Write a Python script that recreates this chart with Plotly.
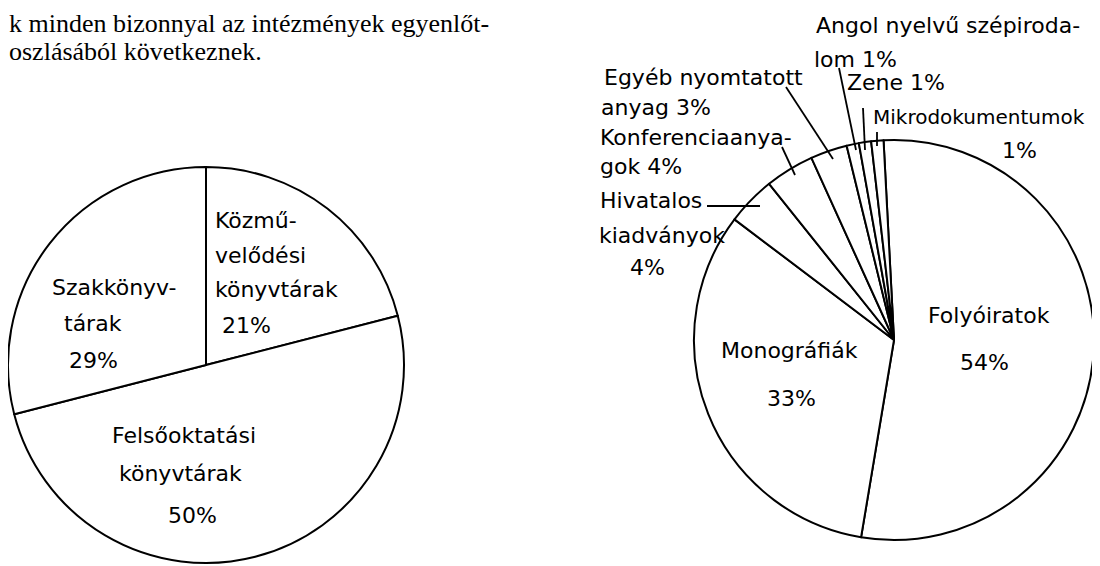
import plotly.graph_objects as go

# browser body margin (8px) is compensated: figure occupies window pixels 8..1100 x 8..566
OFF = 8
W, H = 1100 - OFF, 566 - OFF

# ---- data ----
left_labels = ["Közművelődési könyvtárak", "Felsőoktatási könyvtárak", "Szakkönyvtárak"]
left_values = [21, 50, 29]

right_labels = ["Folyóiratok", "Monográfiák", "Hivatalos kiadványok", "Konferenciaanyagok",
                "Egyéb nyomtatott anyag", "Angol nyelvű szépirodalom", "Zene", "Mikrodokumentumok"]
right_values = [54, 33, 4, 4, 3, 1, 1, 1]

body_text = ["k minden bizonnyal az intézmények egyenlőt-", "oszlásából következnek."]

FONT = "DejaVu Sans"
FS = 22


def px(x):
    return (x - OFF) / W


def py(y):
    return 1 - (y - OFF) / H


fig = go.Figure()

fig.add_trace(go.Pie(
    labels=left_labels, values=left_values, sort=False, direction="clockwise", rotation=0,
    marker=dict(colors=["white"] * 3, line=dict(color="black", width=2)),
    textinfo="none", hoverinfo="label+percent", showlegend=False,
    domain=dict(x=[px(8), px(404)], y=[py(564), py(166)]),
))

fig.add_trace(go.Pie(
    labels=right_labels, values=right_values, sort=False, direction="clockwise", rotation=-3,
    marker=dict(colors=["white"] * 8, line=dict(color="black", width=2)),
    textinfo="none", hoverinfo="label+percent", showlegend=False,
    domain=dict(x=[px(694), px(1094)], y=[py(541), py(139)]),
))

ann = []


def txt(s, x, y, anchor="left", size=FS, family=FONT, yanchor="middle"):
    ann.append(dict(text=s, x=px(x), y=py(y), xref="paper", yref="paper", xanchor=anchor,
                    yanchor=yanchor, showarrow=False, borderpad=0,
                    font=dict(family=family, size=size, color="black")))


# body text (serif)
txt(body_text[0], 8, 8, size=26, family="Liberation Serif", yanchor="top")
txt(body_text[1], 8, 36, size=26, family="Liberation Serif", yanchor="top")

lv = dict(zip(left_labels, left_values))
rv = dict(zip(right_labels, right_values))

# left pie labels
txt("Közmű-", 214, 220)
txt("velődési", 214, 255)
txt("könyvtárak", 214, 289)
txt(f"{lv['Közművelődési könyvtárak']}%", 221, 325)

txt("Szakkönyv-", 51, 287)
txt("tárak", 63, 323)
txt(f"{lv['Szakkönyvtárak']}%", 68, 360)

txt("Felsőoktatási", 184, 435, anchor="center")
txt("könyvtárak", 180, 473, anchor="center")
txt(f"{lv['Felsőoktatási könyvtárak']}%", 192, 515, anchor="center")

# right pie labels
txt("Angol nyelvű szépiroda-", 815, 25)
txt(f"lom {rv['Angol nyelvű szépirodalom']}%", 813, 60)
txt(f"Zene {rv['Zene']}%", 846, 82)
txt("Mikrodokumentumok", 872, 117, size=20)
txt(f"{rv['Mikrodokumentumok']}%", 1019, 150, anchor="center")
txt("Egyéb nyomtatott", 603, 77)
txt(f"anyag {rv['Egyéb nyomtatott anyag']}%", 600, 107)
txt("Konferenciaanya-", 599, 137)
txt(f"gok {rv['Konferenciaanyagok']}%", 599, 167)
txt("Hivatalos", 599, 200)
txt("kiadványok", 598, 235)
txt(f"{rv['Hivatalos kiadványok']}%", 647, 267, anchor="center")
txt("Monográfiák", 789, 350, anchor="center")
txt(f"{rv['Monográfiák']}%", 791, 398, anchor="center")
txt("Folyóiratok", 989, 315, anchor="center")
txt(f"{rv['Folyóiratok']}%", 984, 362, anchor="center")

# leader lines
leaders = [
    (786, 87, 833, 159),
    (839, 68, 856, 150),
    (863, 108, 865, 150),
    (877, 132, 877, 146),
    (782, 147, 795, 175),
    (707, 206, 760, 206),
]
shapes = [dict(type="line", xref="paper", yref="paper", x0=px(a), y0=py(b), x1=px(c), y1=py(d),
               line=dict(color="black", width=1.8)) for a, b, c, d in leaders]

fig.update_layout(
    width=W, height=H, margin=dict(l=0, r=0, t=0, b=0),
    paper_bgcolor="white", plot_bgcolor="white",
    annotations=ann, shapes=shapes, showlegend=False,
)

fig.write_html("out.html")
